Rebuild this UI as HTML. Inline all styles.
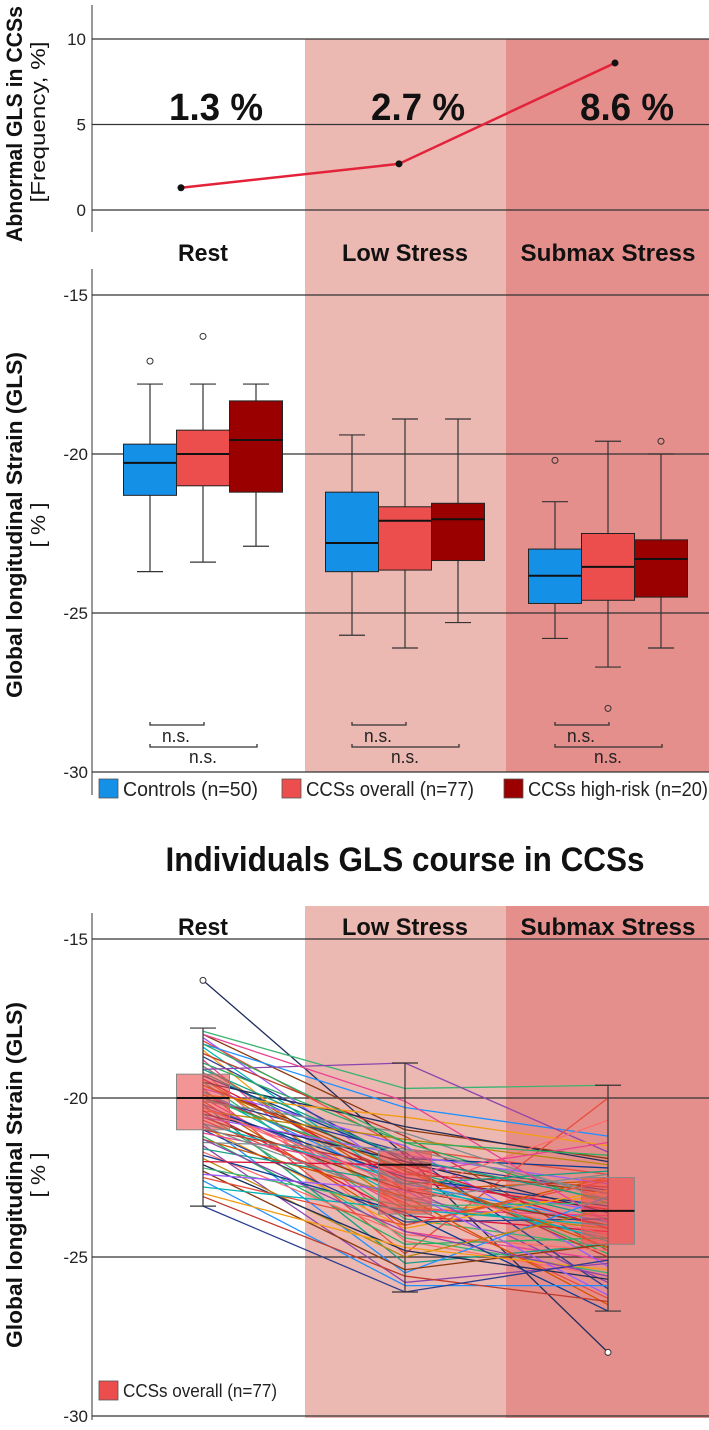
<!DOCTYPE html>
<html><head><meta charset="utf-8"><style>
body{margin:0;background:#fff}
svg{display:block}
.n{font-family:"Liberation Sans Narrow","Liberation Sans",sans-serif}
.w{font-family:"Liberation Sans",sans-serif}
</style></head><body>
<svg id="c" width="709" height="1430" xmlns="http://www.w3.org/2000/svg"></svg>
<script>
const phases=["Rest","Low Stress","Submax Stress"];
const freqVals=[1.3,2.7,8.6];
const freqLabels=["1.3 %","2.7 %","8.6 %"];
const topTicks=[0,5,10];
const glsTicks=[-15,-20,-25,-30];
const groups=["Controls (n=50)","CCSs overall (n=77)","CCSs high-risk (n=20)"];
const groupColors=["#1490e6","#ec4e4e","#9b0000"];
const boxControls=[[-23.7,-21.3,-20.28,-19.69,-17.8],[-25.7,-23.7,-22.8,-21.2,-19.4],[-25.8,-24.7,-23.83,-22.99,-21.5]];
const boxOverall=[[-23.4,-21.0,-20.0,-19.25,-17.8],[-26.1,-23.65,-22.1,-21.66,-18.9],[-26.7,-24.6,-23.55,-22.5,-19.6]];
const boxHighRisk=[[-22.9,-21.2,-19.56,-18.33,-17.8],[-25.3,-23.35,-22.05,-21.55,-18.9],[-26.1,-24.5,-23.3,-22.7,-20.0]];
const outControls=[[-17.08],[],[-20.2]];
const outOverall=[[-16.3],[],[-28.0]];
const outHighRisk=[[],[],[-19.6]];
const restVals=[-16.3,-17.9,-18.0,-18.1,-18.2,-18.3,-18.4,-18.5,-18.6,-18.7,-18.8,-18.9,-19.0,-19.0,-19.1,-19.2,-19.2,-19.3,-19.4,-19.4,-19.5,-19.5,-19.6,-19.7,-19.7,-19.8,-19.8,-19.9,-19.9,-20.0,-20.0,-20.0,-20.1,-20.1,-20.2,-20.2,-20.3,-20.3,-20.4,-20.4,-20.5,-20.5,-20.6,-20.6,-20.7,-20.8,-20.8,-20.9,-21.0,-21.0,-21.1,-21.2,-21.3,-21.4,-21.5,-21.6,-21.7,-21.8,-21.9,-22.0,-22.1,-22.2,-22.3,-22.4,-22.5,-22.6,-22.8,-23.0,-23.1,-23.4,-18.0,-18.3,-19.6,-20.9,-21.3,-19.1,-20.3];
const lowVals=[-21.8,-19.7,-21.0,-22.5,-21.6,-20.3,-22.8,-23.6,-21.2,-22.0,-24.2,-21.4,-22.9,-23.1,-18.9,-22.3,-24.5,-21.9,-23.4,-22.6,-20.9,-23.8,-22.1,-21.5,-24.9,-22.7,-23.2,-20.6,-22.4,-21.7,-23.5,-22.2,-24.0,-21.1,-22.8,-25.2,-23.0,-22.5,-21.3,-23.7,-22.0,-24.4,-22.9,-21.8,-23.3,-25.5,-22.6,-24.1,-22.2,-23.9,-22.4,-24.6,-23.1,-21.6,-25.8,-22.7,-24.3,-23.6,-25.0,-22.1,-24.8,-23.4,-25.4,-22.9,-24.0,-25.9,-23.5,-24.7,-25.6,-26.1,-20.1,-21.4,-22.3,-23.2,-24.2,-21.9,-22.8];
const subVals=[-28.0,-19.6,-21.9,-23.6,-22.4,-21.2,-24.0,-23.1,-24.8,-22.9,-25.1,-23.3,-22.6,-24.4,-21.7,-23.8,-25.6,-22.2,-24.1,-23.5,-22.0,-24.7,-23.0,-25.3,-20.0,-23.9,-24.3,-21.5,-22.8,-26.0,-23.7,-24.9,-22.5,-23.2,-25.8,-24.6,-20.7,-23.4,-22.1,-24.2,-23.6,-25.5,-24.0,-22.7,-26.3,-23.1,-24.5,-22.9,-25.0,-23.8,-21.4,-24.4,-26.5,-23.0,-25.2,-22.3,-24.8,-26.7,-23.5,-24.1,-25.7,-23.3,-24.6,-26.2,-22.6,-25.9,-24.0,-25.4,-26.4,-25.1,-23.9,-21.8,-24.7,-22.4,-25.6,-23.2,-24.3];
const lineColors=["#1f2d5c","#3cb371","#8b3a0f","#9b59ff","#e74c3c","#1e90ff","#00b3b3","#f39c12","#c0392b","#2c3e91","#e84393","#27ae60","#d35400","#7f8c8d","#8e44ad","#16a085","#ff6b6b","#0b3d91","#b8860b","#dc143c"];

const svg=document.getElementById('c');const NS="http://www.w3.org/2000/svg";
function mk(t,a,parent){const e=document.createElementNS(NS,t);for(const k in a)e.setAttribute(k,a[k]);(parent||svg).appendChild(e);return e;}
function txt(s,a,parent){const e=mk('text',a,parent);e.textContent=s;return e;}
function fit(e,len){e.setAttribute('textLength',len);e.setAttribute('lengthAdjust','spacingAndGlyphs');}
const X0=92,XR=709;
const phaseX=[203,405,608];
const yTop=v=>210-(v*17.1);
const yMid=v=>295+(-15-v)*31.8;
const yBot=v=>939+(-15-v)*31.8;

let r=mk('rect',{x:305,y:39,width:201,height:733,fill:"#ebb8b2"});

r=mk('rect',{x:506,y:39,width:203,height:733,fill:"#e58f8c"});

r=mk('rect',{x:305,y:906,width:201,height:512,fill:"#ebb8b2"});

r=mk('rect',{x:506,y:906,width:203,height:512,fill:"#e58f8c"});


// ---- top panel
let g=mk('g',{});
mk('line',{x1:X0,y1:5,x2:X0,y2:232,stroke:"#333","stroke-width":1},g);
topTicks.forEach(t=>{
  let l=mk('line',{x1:X0,y1:yTop(t),x2:XR,y2:yTop(t),stroke:"#333","stroke-width":1.2},g);
  
  let e=txt(String(t),{x:86,y:yTop(t)+6,"text-anchor":"end","font-size":17,fill:"#222",class:"n"},g);
  
});
let pts=freqVals.map((v,i)=>phaseX[i]-22+ (i==0?0:i==1?16:29)).map((x,i)=>[x,yTop(freqVals[i])]);
let pl=mk('polyline',{points:pts.map(p=>p.join(',')).join(' '),fill:"none",stroke:"#e3233a","stroke-width":2.5},g);

pts.forEach(p=>{let c=mk('circle',{cx:p[0],cy:p[1],r:3.5,fill:"#111"},g);});
const fx=[216,418,627];
freqLabels.forEach((s,i)=>{let e=txt(s,{x:fx[i],y:120,"text-anchor":"middle","font-size":38,"font-weight":"bold",fill:"#111",class:"n"},g);fit(e,94);});
let t1=txt("Abnormal GLS in CCSs",{x:0,y:0,"text-anchor":"middle","font-size":22,"font-weight":"bold",fill:"#111",class:"w",transform:"translate(22,124) rotate(-90)"});
fit(t1,236);

let t2=txt("[Frequency,  %]",{x:0,y:0,"text-anchor":"middle","font-size":20,fill:"#111",class:"w",transform:"translate(45,122) rotate(-90)"});
fit(t2,161);


const phaseW=[50,126,175];
function phaseLabels(y,name){phases.forEach((p,i)=>{let e=txt(p,{x:phaseX[i]-(i==0?0:0),y:y,"text-anchor":"middle","font-size":24,"font-weight":"bold",fill:"#111",class:"n"});fit(e,phaseW[i]);});}
phaseLabels(261,'phase-label');

// ---- middle panel
g=mk('g',{});
mk('line',{x1:X0,y1:269,x2:X0,y2:795,stroke:"#333","stroke-width":1},g);
glsTicks.forEach(t=>{
  let l=mk('line',{x1:X0,y1:yMid(t),x2:XR,y2:yMid(t),stroke:"#333","stroke-width":1.2},g);
  
  let e=txt(String(t),{x:88,y:yMid(t)+6,"text-anchor":"end","font-size":17,fill:"#222",class:"n"},g);
  
});
function drawBox(parent,cx,b,fill,yf,w,stroke,opacity){
  const [wl,q1,md,q3,wh]=b;
  mk('line',{x1:cx,y1:yf(wh),x2:cx,y2:yf(wl),stroke:"#333","stroke-width":1.2},parent);
  mk('line',{x1:cx-13,y1:yf(wh),x2:cx+13,y2:yf(wh),stroke:"#333","stroke-width":1.2},parent);
  mk('line',{x1:cx-13,y1:yf(wl),x2:cx+13,y2:yf(wl),stroke:"#333","stroke-width":1.2},parent);
  let rr=mk('rect',{x:cx-w/2,y:yf(q3),width:w,height:yf(q1)-yf(q3),fill:fill,"fill-opacity":opacity,stroke:stroke,"stroke-width":1},parent);
  
  mk('line',{x1:cx-w/2,y1:yf(md),x2:cx+w/2,y2:yf(md),stroke:"#111","stroke-width":2},parent);
}
const boxSets=[boxControls,boxOverall,boxHighRisk];const outSets=[outControls,outOverall,outHighRisk];
const offs=[-53,0,53];
phases.forEach((p,i)=>{boxSets.forEach((bs,k)=>{
  let bg=mk('g',{},g);
  const cx=phaseX[i]+offs[k];
  drawBox(bg,cx,bs[i],groupColors[k],yMid,53,"#222",1);
  outSets[k][i].forEach(o=>{let c=mk('circle',{cx:cx,cy:yMid(o),r:3,fill:"none",stroke:"#333","stroke-width":1},bg);});
});
  const bx=phaseX[i]-53;
  let s=mk('g',{},g);
  mk('path',{d:`M${bx},722 V725 H${bx+54} V722`,fill:"none",stroke:"#333","stroke-width":1.3},s);
  mk('path',{d:`M${bx},744 V747 H${bx+107} V744`,fill:"none",stroke:"#333","stroke-width":1.3},s);
  let a=txt("n.s.",{x:bx+26,y:742,"text-anchor":"middle","font-size":18,fill:"#222",class:"n"},s);fit(a,28);
  let b=txt("n.s.",{x:bx+53,y:763,"text-anchor":"middle","font-size":18,fill:"#222",class:"n"},s);fit(b,28);
});
let t3=txt("Global longitudinal Strain (GLS)",{x:0,y:0,"text-anchor":"middle","font-size":22,"font-weight":"bold",fill:"#111",class:"w",transform:"translate(22,525) rotate(-90)"});
fit(t3,346);

let t4=txt("[ % ]",{x:0,y:0,"text-anchor":"middle","font-size":20,fill:"#111",class:"w",transform:"translate(45,525) rotate(-90)"});
fit(t4,45);

const lgx=[99,282,504];const lgw=[135,168,180];
groups.forEach((s,k)=>{let lg=mk('g',{});
  mk('rect',{x:lgx[k],y:779,width:19,height:19,fill:groupColors[k],stroke:"#555","stroke-width":0.8},lg);
  let e=txt(s,{x:lgx[k]+24,y:796,"font-size":20,fill:"#222",class:"n"},lg);fit(e,lgw[k]);});

let tt=txt("Individuals GLS course in CCSs",{x:405,y:871,"text-anchor":"middle","font-size":34,"font-weight":"bold",fill:"#111",class:"n"});
fit(tt,479);


// ---- bottom panel
g=mk('g',{});
mk('line',{x1:X0,y1:913,x2:X0,y2:1420,stroke:"#333","stroke-width":1},g);
glsTicks.forEach(t=>{
  let l=mk('line',{x1:X0,y1:yBot(t),x2:XR,y2:yBot(t),stroke:"#333","stroke-width":1.2},g);
  
  let e=txt(String(t),{x:88,y:yBot(t)+6,"text-anchor":"end","font-size":17,fill:"#222",class:"n"},g);
  
});
let lg2=mk('g',{},g);
restVals.forEach((v,i)=>{
  let p=mk('polyline',{points:`${phaseX[0]},${yBot(v)} ${phaseX[1]},${yBot(lowVals[i])} ${phaseX[2]},${yBot(subVals[i])}`,fill:"none",stroke:lineColors[i%lineColors.length],"stroke-width":1.3},lg2);
  
});
phases.forEach((p,i)=>{let bg=mk('g',{},g);
  drawBox(bg,phaseX[i],boxOverall[i],"#ec4e4e",yBot,53,"#888",0.6);
  outOverall[i].forEach(o=>{let c=mk('circle',{cx:phaseX[i],cy:yBot(o),r:3,fill:"#fff",stroke:"#333","stroke-width":1},bg);});
});
phaseLabels(935,'phase-label-bottom');
let t5=txt("Global longitudinal Strain (GLS)",{x:0,y:0,"text-anchor":"middle","font-size":22,"font-weight":"bold",fill:"#111",class:"w",transform:"translate(22,1175) rotate(-90)"});
fit(t5,346);

let t6=txt("[ % ]",{x:0,y:0,"text-anchor":"middle","font-size":20,fill:"#111",class:"w",transform:"translate(45,1175) rotate(-90)"});
fit(t6,45);

let lg3=mk('g',{});
mk('rect',{x:99,y:1381,width:19,height:19,fill:"#ec4e4e",stroke:"#555","stroke-width":0.8},lg3);
let lt=txt("CCSs overall (n=77)",{x:123,y:1397,"font-size":18,fill:"#222",class:"n"},lg3);fit(lt,154);
</script>
</body></html>
